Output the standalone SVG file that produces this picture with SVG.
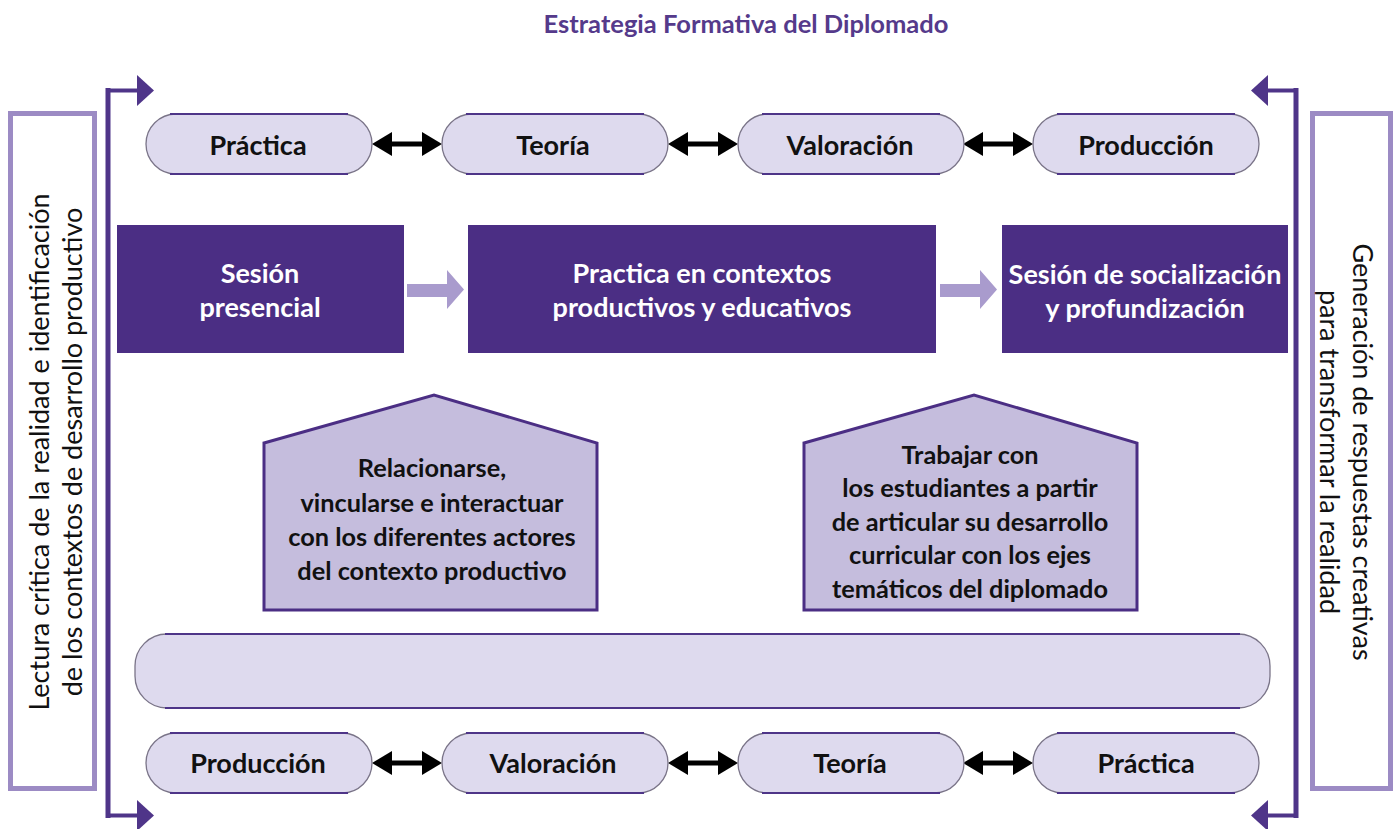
<svg xmlns="http://www.w3.org/2000/svg" width="1397" height="829" viewBox="0 0 1397 829">
<defs>
<style>
text{font-family:Lato,"Open Sans","Noto Sans",sans-serif;}
.title{font-size:25.5px;font-weight:bold;fill:#553a8b;text-anchor:middle;}
.pill{fill:#dedaee;stroke:#7a7488;stroke-width:1.3;}
.pedge{stroke:#4e3588;stroke-width:2.2;fill:none;}
.pt{font-size:27px;font-weight:bold;fill:#111;text-anchor:middle;}
.dark{fill:#4b2e84;}
.wt{font-size:27px;font-weight:bold;fill:#fff;text-anchor:middle;}
.penta{fill:#c5bddd;stroke:#4b2e84;stroke-width:3;}
.bt{font-size:25.3px;font-weight:bold;fill:#111;text-anchor:middle;}
.side{fill:#fff;stroke:#9c8bc4;stroke-width:5;}
.st{font-size:27px;fill:#111;text-anchor:middle;}
.vline{stroke:#4f3589;stroke-width:5;fill:none;}
.harm{stroke:#4f3589;stroke-width:4;fill:none;}
.head{fill:#4f3589;}
.dbl{stroke:#000;stroke-width:5;}
.blk{fill:#000;}
.la{fill:#a99bcd;}
</style>
</defs>
<rect width="1397" height="829" fill="#fff"/>
<text class="title" x="746" y="33">Estrategia Formativa del Diplomado</text>

<g id="left-side">
<rect class="side" x="10.5" y="113.5" width="84" height="675"/>
<text class="st" transform="translate(40,452) rotate(-90)" dy="9">Lectura crítica de la realidad e identificación</text>
<text class="st" transform="translate(73,452) rotate(-90)" dy="9">de los contextos de desarrollo productivo</text>
</g>
<g id="right-side">
<rect class="side" x="1312.5" y="113.5" width="78" height="675"/>
<text class="st" transform="translate(1362,452) rotate(90)" dy="9">Generación de respuestas creativas</text>
<text class="st" transform="translate(1329,452) rotate(90)" dy="9">para transformar la realidad</text>
</g>

<g id="connectors">
<path class="vline" d="M108 88 V818"/>
<path class="harm" d="M108 90.5 H140"/>
<polygon class="head" points="137,75 154,90.5 137,106"/>
<path class="harm" d="M108 815.5 H140"/>
<polygon class="head" points="137,800 154,815.5 137,831"/>
<path class="vline" d="M1296 88 V818"/>
<path class="harm" d="M1296 90.5 H1265"/>
<polygon class="head" points="1268,75 1251,90.5 1268,106"/>
<path class="harm" d="M1296 815.5 H1265"/>
<polygon class="head" points="1268,800 1251,815.5 1268,831"/>

<path class="dbl" d="M388 144 H426"/>
<polygon class="blk" points="372,144 392,132 392,156"/>
<polygon class="blk" points="442,144 422,132 422,156"/>
<path class="dbl" d="M684 144 H722"/>
<polygon class="blk" points="668,144 688,132 688,156"/>
<polygon class="blk" points="738,144 718,132 718,156"/>
<path class="dbl" d="M979 144 H1017"/>
<polygon class="blk" points="963,144 983,132 983,156"/>
<polygon class="blk" points="1033,144 1013,132 1013,156"/>

<path class="dbl" d="M388 763 H426"/>
<polygon class="blk" points="372,763 392,751 392,775"/>
<polygon class="blk" points="442,763 422,751 422,775"/>
<path class="dbl" d="M684 763 H722"/>
<polygon class="blk" points="668,763 688,751 688,775"/>
<polygon class="blk" points="738,763 718,751 718,775"/>
<path class="dbl" d="M979 763 H1017"/>
<polygon class="blk" points="963,763 983,751 983,775"/>
<polygon class="blk" points="1033,763 1013,751 1013,775"/>

<polygon class="la" points="407,284 447,284 447,270 464,289.5 447,309 447,297 407,297"/>
<polygon class="la" points="940,284 980,284 980,270 997,289.5 980,309 980,297 940,297"/>
</g>

<g id="top-practica">
<rect class="pill" x="146" y="114" width="226" height="60" rx="30"/>
<path class="pedge" d="M170 114 H348 M170 174 H348"/>
<text class="pt" x="258" y="155">Práctica</text>
</g>
<g id="top-teoria">
<rect class="pill" x="442" y="114" width="226" height="60" rx="30"/>
<path class="pedge" d="M466 114 H644 M466 174 H644"/>
<text class="pt" x="553" y="155">Teoría</text>
</g>
<g id="top-valoracion">
<rect class="pill" x="738" y="114" width="226" height="60" rx="30"/>
<path class="pedge" d="M762 114 H940 M762 174 H940"/>
<text class="pt" x="850" y="155">Valoración</text>
</g>
<g id="top-produccion">
<rect class="pill" x="1033" y="114" width="226" height="60" rx="30"/>
<path class="pedge" d="M1057 114 H1235 M1057 174 H1235"/>
<text class="pt" x="1146" y="155">Producción</text>
</g>

<g id="sesion-presencial">
<rect class="dark" x="117" y="225" width="287" height="128"/>
<text class="wt" x="260" y="283">Sesión</text>
<text class="wt" x="260" y="317">presencial</text>
</g>
<g id="practica-contextos">
<rect class="dark" x="468" y="225" width="468" height="128"/>
<text class="wt" x="702" y="283">Practica en contextos</text>
<text class="wt" x="702" y="317">productivos y educativos</text>
</g>
<g id="sesion-socializacion">
<rect class="dark" x="1002" y="225" width="286" height="128"/>
<text class="wt" x="1145" y="284">Sesión de socialización</text>
<text class="wt" x="1145" y="318">y profundización</text>
</g>

<g id="relacionarse">
<polygon class="penta" points="264,443 434,395 597,443 597,610 264,610"/>
<text class="bt" x="432" y="477">Relacionarse,</text>
<text class="bt" x="432" y="512">vincularse e interactuar</text>
<text class="bt" x="432" y="546">con los diferentes actores</text>
<text class="bt" x="432" y="580">del contexto productivo</text>
</g>
<g id="trabajar">
<polygon class="penta" points="804,443 974,395 1137,443 1137,610 804,610"/>
<text class="bt" x="970" y="464">Trabajar con</text>
<text class="bt" x="970" y="497">los estudiantes a partir</text>
<text class="bt" x="970" y="531">de articular su desarrollo</text>
<text class="bt" x="970" y="564">curricular con los ejes</text>
<text class="bt" x="970" y="598">temáticos del diplomado</text>
</g>

<g id="wide-bar">
<rect class="pill" x="135" y="634" width="1135" height="74" rx="32"/>
<path class="pedge" d="M165 634 H1240 M165 708 H1240"/>
</g>

<g id="bottom-produccion">
<rect class="pill" x="146" y="733" width="226" height="60" rx="30"/>
<path class="pedge" d="M170 733 H348 M170 793 H348"/>
<text class="pt" x="258" y="773">Producción</text>
</g>
<g id="bottom-valoracion">
<rect class="pill" x="442" y="733" width="226" height="60" rx="30"/>
<path class="pedge" d="M466 733 H644 M466 793 H644"/>
<text class="pt" x="553" y="773">Valoración</text>
</g>
<g id="bottom-teoria">
<rect class="pill" x="738" y="733" width="226" height="60" rx="30"/>
<path class="pedge" d="M762 733 H940 M762 793 H940"/>
<text class="pt" x="850" y="773">Teoría</text>
</g>
<g id="bottom-practica">
<rect class="pill" x="1033" y="733" width="226" height="60" rx="30"/>
<path class="pedge" d="M1057 733 H1235 M1057 793 H1235"/>
<text class="pt" x="1146" y="773">Práctica</text>
</g>
</svg>
